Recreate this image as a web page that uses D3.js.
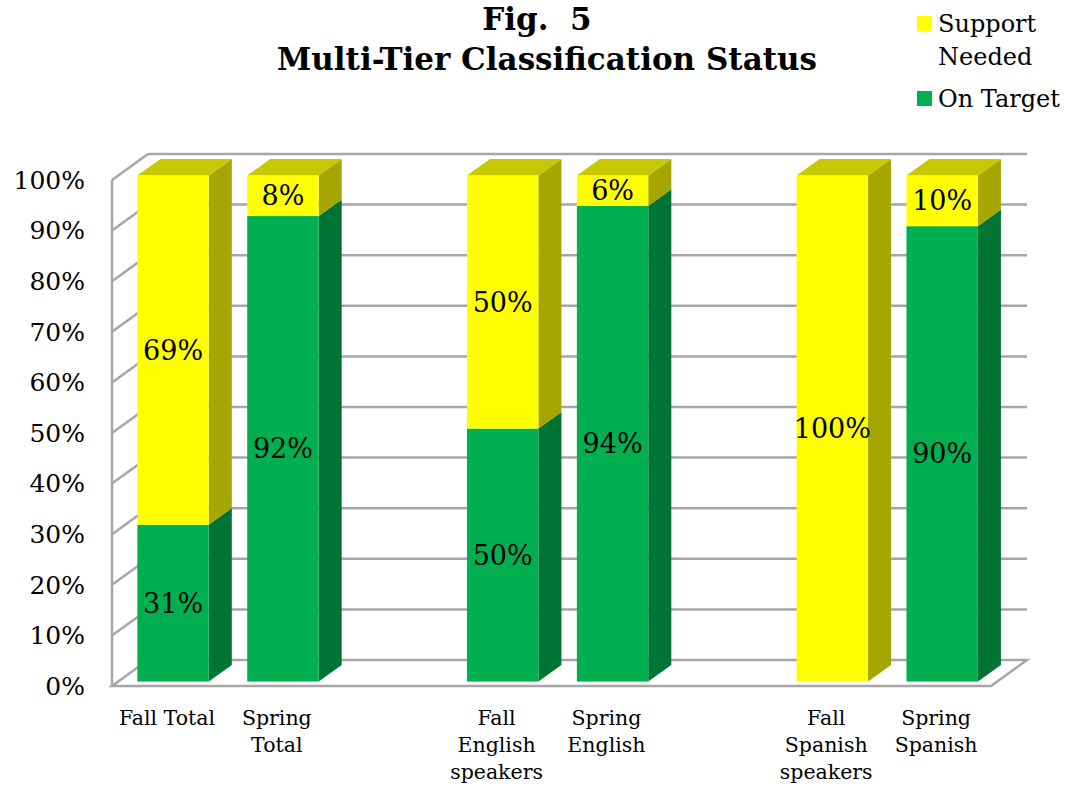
<!DOCTYPE html>
<html>
<head>
<meta charset="utf-8">
<script src="https://cdn.jsdelivr.net/npm/d3@7"></script>
<style>
  body { margin: 0; background: #fff; }
  text { font-family: "DejaVu Serif", "Liberation Serif", serif; }
</style>
</head>
<body>
<div id="chart"></div>
<script>
// data
var categories = ["Fall Total", "Spring Total", "", "Fall English speakers", "Spring English", "", "Fall Spanish speakers", "Spring Spanish"];
var onTarget = [31, 92, null, 50, 94, null, 0, 90];
var supportNeeded = [69, 8, null, 50, 6, null, 100, 10];
var yTicks = [0, 10, 20, 30, 40, 50, 60, 70, 80, 90, 100];
var seriesNames = ["Support Needed", "On Target"];

var width = 1074, height = 786;
var depthX = 36, depthY = -26;     // full depth of the 3d box
var barF0 = 0.17, barF1 = 0.81;    // bar position inside the depth

var colors = {
    "On Target": { front: "#00b050", side: "#007434", top: "#00923f" },
    "Support Needed": { front: "#ffff00", side: "#a6a600", top: "#c8c800" }
};

var svg = d3.select("#chart").append("svg")
    .attr("width", width)
    .attr("height", height);

var x = d3.scaleBand()
    .domain(d3.range(categories.length))
    .range([112, 991])
    .paddingInner(0.35)
    .paddingOuter(0.175);

var y = d3.scaleLinear().domain([0, 100]).range([686, 180]);

var gridColor = "#a6a6a6";
var grid = svg.append("g").attr("class", "grid")
    .attr("fill", "none")
    .attr("stroke", gridColor)
    .attr("stroke-width", 2.5);

// floor
grid.append("path")
    .attr("d", "M" + x.range()[0] + "," + y(0) +
        "L" + x.range()[1] + "," + y(0) +
        "L" + (x.range()[1] + depthX) + "," + (y(0) + depthY) +
        "L" + (x.range()[0] + depthX) + "," + (y(0) + depthY) + "Z");

// back wall lines
grid.selectAll(".back").data(yTicks.filter(function (d) { return d > 0; }))
    .enter().append("line")
    .attr("x1", x.range()[0] + depthX)
    .attr("x2", x.range()[1] + depthX)
    .attr("y1", function (d) { return y(d) + depthY; })
    .attr("y2", function (d) { return y(d) + depthY; });

// side wall lines
grid.selectAll(".side").data(yTicks.filter(function (d) { return d > 0; }))
    .enter().append("line")
    .attr("x1", x.range()[0])
    .attr("x2", x.range()[0] + depthX)
    .attr("y1", function (d) { return y(d); })
    .attr("y2", function (d) { return y(d) + depthY; });

grid.append("line")
    .attr("x1", x.range()[0]).attr("x2", x.range()[0])
    .attr("y1", y(0)).attr("y2", y(100));

// y tick labels
svg.append("g").selectAll("text").data(yTicks)
    .enter().append("text")
    .attr("x", 85)
    .attr("y", function (d) { return y(d); })
    .attr("dy", "0.35em")
    .attr("text-anchor", "end")
    .attr("font-size", 25)
    .attr("fill", "#000")
    .text(function (d) { return d + "%"; });

// build segments
var segs = [];
categories.forEach(function (c, i) {
    if (onTarget[i] == null) return;
    var a = onTarget[i], b = supportNeeded[i];
    if (a > 0) segs.push({ i: i, name: "On Target", y0: 0, y1: a, top: b === 0 });
    if (b > 0) segs.push({ i: i, name: "Support Needed", y0: a, y1: a + b, top: true });
});

function px(i, f) { return x(i) + f * depthX; }
function py(v, f) { return y(v) + f * depthY; }

var bars = svg.append("g").attr("class", "bars");

bars.selectAll(".side").data(segs).enter().append("path")
    .attr("fill", function (d) { return colors[d.name].side; })
    .attr("d", function (d) {
        var xr = x(d.i) + x.bandwidth();
        return "M" + (xr + barF0 * depthX) + "," + py(d.y0, barF0) +
            "L" + (xr + barF1 * depthX) + "," + py(d.y0, barF1) +
            "L" + (xr + barF1 * depthX) + "," + py(d.y1, barF1) +
            "L" + (xr + barF0 * depthX) + "," + py(d.y1, barF0) + "Z";
    });

bars.selectAll(".top").data(segs.filter(function (d) { return d.top; })).enter().append("path")
    .attr("fill", function (d) { return colors[d.name].top; })
    .attr("d", function (d) {
        var xl = x(d.i), xr = x(d.i) + x.bandwidth();
        return "M" + (xl + barF0 * depthX) + "," + py(d.y1, barF0) +
            "L" + (xr + barF0 * depthX) + "," + py(d.y1, barF0) +
            "L" + (xr + barF1 * depthX) + "," + py(d.y1, barF1) +
            "L" + (xl + barF1 * depthX) + "," + py(d.y1, barF1) + "Z";
    });

bars.selectAll(".front").data(segs).enter().append("rect")
    .attr("fill", function (d) { return colors[d.name].front; })
    .attr("x", function (d) { return px(d.i, barF0); })
    .attr("y", function (d) { return py(d.y1, barF0); })
    .attr("width", x.bandwidth())
    .attr("height", function (d) { return y(d.y0) - y(d.y1); });

// value labels
bars.selectAll(".label").data(segs).enter().append("text")
    .attr("x", function (d) { return px(d.i, barF0) + x.bandwidth() / 2; })
    .attr("y", function (d) { return py((d.y0 + d.y1) / 2, barF0); })
    .attr("dy", "0.35em")
    .attr("text-anchor", "middle")
    .attr("font-size", 27)
    .attr("fill", "#000")
    .text(function (d) { return (d.y1 - d.y0) + "%"; });

// category labels
var catG = svg.append("g").selectAll("text")
    .data(categories.map(function (c, i) { return { c: c, i: i }; }).filter(function (d) { return d.c; }))
    .enter().append("text")
    .attr("text-anchor", "middle")
    .attr("font-size", 20.5)
    .attr("fill", "#000")
    .attr("x", function (d) { return x(d.i) + x.bandwidth() / 2; })
    .attr("y", 725);

catG.each(function (d) {
    var t = d3.select(this), words = d.c.split(" "), lines = [], cur = [];
    words.forEach(function (w) {
        cur.push(w);
        t.text(cur.join(" "));
        if (this.getComputedTextLength() > 104 && cur.length > 1) {
            cur.pop();
            lines.push(cur.join(" "));
            cur = [w];
        }
    }, this);
    lines.push(cur.join(" "));
    t.text(null);
    lines.forEach(function (l, k) {
        t.append("tspan")
            .attr("x", x(d.i) + x.bandwidth() / 2)
            .attr("dy", k === 0 ? 0 : 27)
            .text(l);
    });
});

// title
var title = svg.append("g").attr("text-anchor", "middle").attr("font-weight", "bold").attr("fill", "#000");
title.append("text").attr("x", 537).attr("y", 30).attr("font-size", 31)
    .style("white-space", "pre").text("Fig.  5");
title.append("text").attr("x", 547).attr("y", 70).attr("font-size", 31)
    .text("Multi-Tier Classification Status");

// legend
var legend = svg.append("g").attr("font-size", 24).attr("fill", "#000");
legend.append("rect").attr("x", 917).attr("y", 16).attr("width", 15).attr("height", 15)
    .attr("fill", colors[seriesNames[0]].front);
legend.append("text").attr("x", 938).attr("y", 24).attr("dy", "0.35em").text("Support");
legend.append("text").attr("x", 938).attr("y", 57).attr("dy", "0.35em").text("Needed");
legend.append("rect").attr("x", 917).attr("y", 91).attr("width", 15).attr("height", 15)
    .attr("fill", colors[seriesNames[1]].front);
legend.append("text").attr("x", 938).attr("y", 99).attr("dy", "0.35em").text(seriesNames[1]);
</script>
</body>
</html>
